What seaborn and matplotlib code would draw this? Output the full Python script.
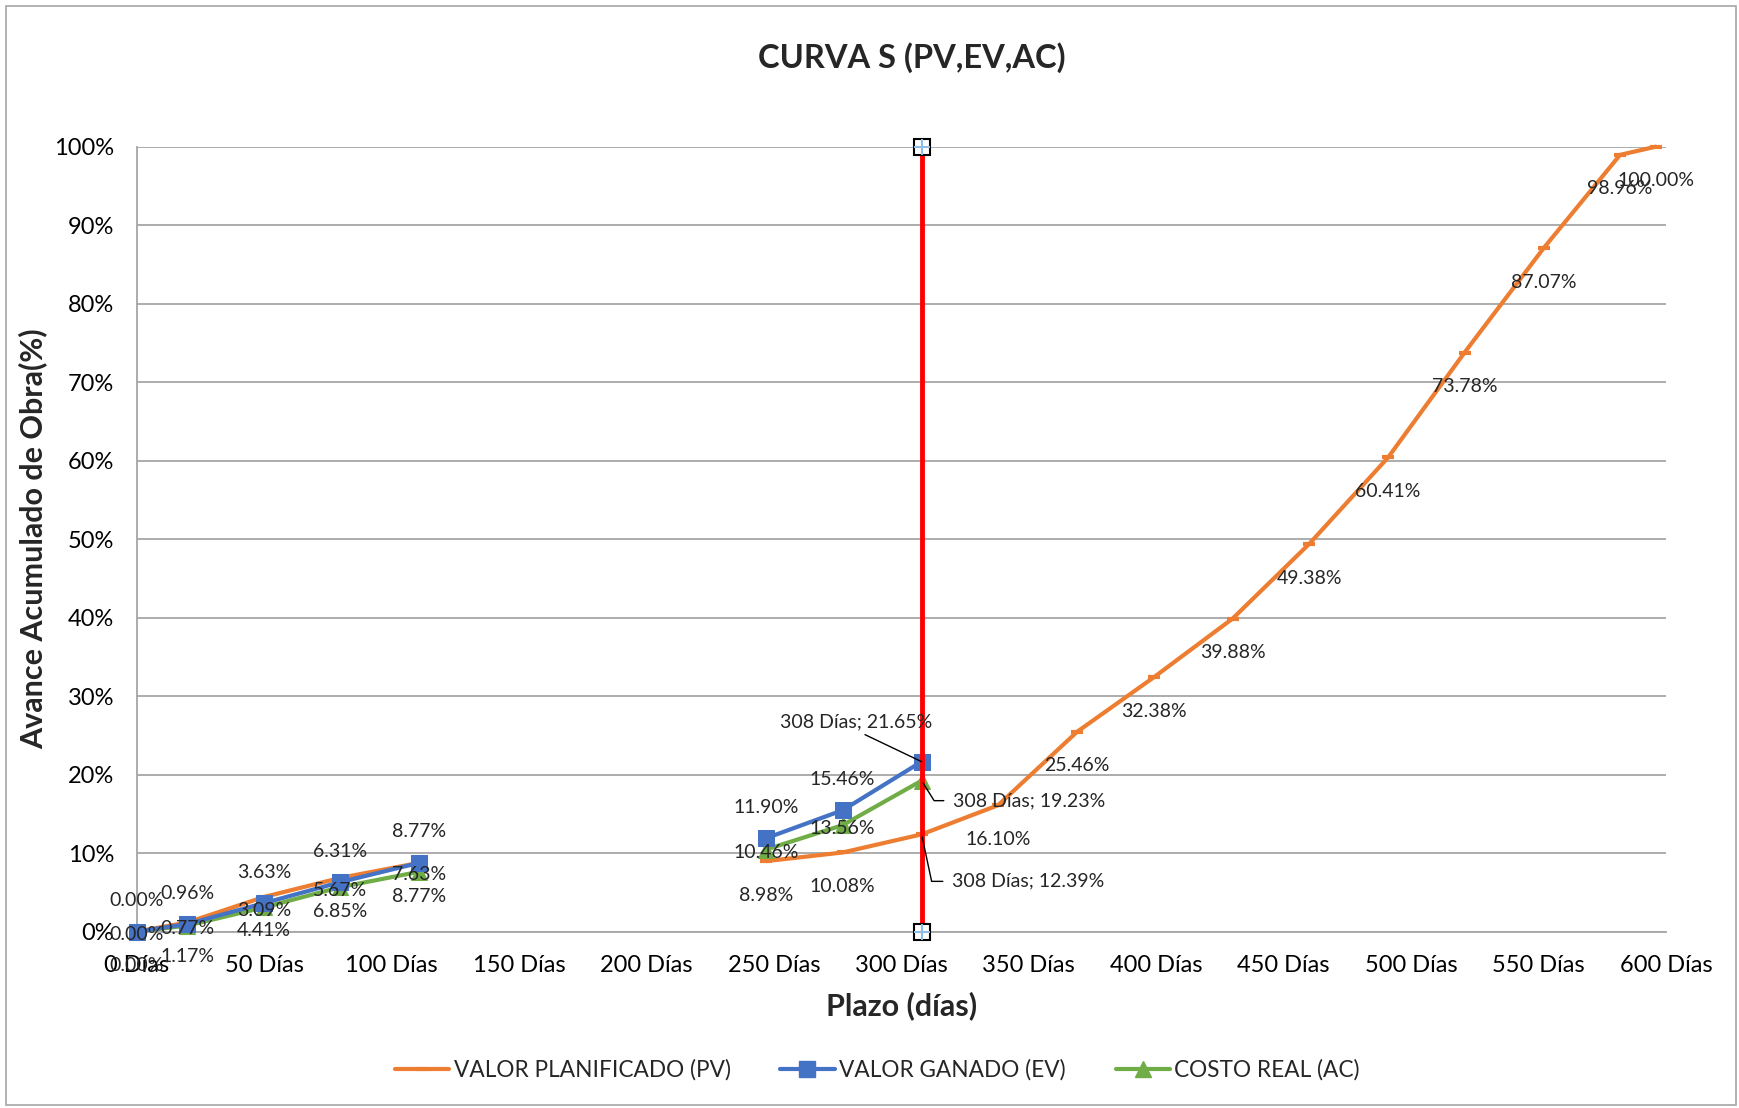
import numpy as np
import pandas as pd
import matplotlib
matplotlib.use("Agg")
import matplotlib.pyplot as plt
import seaborn as sns
from matplotlib.lines import Line2D
from matplotlib.patches import Rectangle

# datos de la curva S (días acumulados, % de avance)
DIAS = [0, 20, 50, 80, 111, 247, 277, 308, 338, 369, 399, 430, 460, 491, 521, 552, 582, 596]
PV = [0.00, 1.17, 4.41, 6.85, 8.77, 8.98, 10.08, 12.39, 16.10, 25.46, 32.38,
      39.88, 49.38, 60.41, 73.78, 87.07, 98.96, 100.00]
EV = [0.00, 0.96, 3.63, 6.31, 8.77, 11.90, 15.46, 21.65]
AC = [0.00, 0.77, 3.09, 5.67, 7.63, 10.46, 13.56, 19.23]

CORTE_DIA = 308
CORTE_Y = [0, 100]

X_TICKS = list(range(0, 601, 50))
Y_TICKS = list(range(0, 101, 10))

C_PV = "#ED7D31"
C_EV = "#4472C4"
C_AC = "#70AD47"
C_CORTE = "#FF0000"

sns.set_style("white")
plt.rcParams["font.family"] = ["Lato", "DejaVu Sans"]


def serie(valores):
    """DataFrame con un tramo nuevo donde hay un hueco grande de días."""
    dias = np.asarray(DIAS[:len(valores)])
    tramo = np.concatenate([[0], np.cumsum(np.diff(dias) > 100)])
    return pd.DataFrame({"dias": dias, "avance": valores, "tramo": tramo})


fig = plt.figure(figsize=(17.39, 11.08), dpi=100)
ax = fig.add_axes([0.0785, 0.1592, 0.8795, 0.7084])

common = dict(x="dias", y="avance", units="tramo", estimator=None, sort=False,
              ax=ax, legend=False, clip_on=False)
sns.lineplot(data=serie(PV), color=C_PV, lw=3, marker="_", ms=9, mew=3,
             mec=C_PV, zorder=3, **common)
sns.lineplot(data=serie(AC), color=C_AC, lw=3, marker="^", ms=12,
             mec=C_AC, zorder=4, **common)
sns.lineplot(data=serie(EV), color=C_EV, lw=3, marker="s", ms=12,
             mec=C_EV, zorder=5, **common)

# línea de corte
sns.lineplot(x=[CORTE_DIA] * 2, y=CORTE_Y, color=C_CORTE, lw=3.5, ax=ax,
             estimator=None, legend=False, zorder=6, clip_on=False)
ax.plot([CORTE_DIA] * 2, CORTE_Y, ls="none", marker="s", ms=12, mfc="white",
        mec="black", mew=1.5, zorder=7, clip_on=False)
ax.plot([CORTE_DIA] * 2, CORTE_Y, ls="none", marker="+", ms=11, mec="#8DBDE8",
        mew=1.5, zorder=8, clip_on=False)

# etiquetas de datos
lab = dict(textcoords="offset pixels", ha="center", va="center", fontsize=14,
           annotation_clip=False, zorder=9)
for d, v in zip(DIAS, PV):
    if d != CORTE_DIA:
        ax.annotate(f"{v:.2f}%", (d, v), xytext=(0, -34), **lab)
for d, v in zip(DIAS, EV):
    if d != CORTE_DIA:
        ax.annotate(f"{v:.2f}%", (d, v), xytext=(0, 31), **lab)
for d, v in zip(DIAS, AC):
    if d != CORTE_DIA:
        ax.annotate(f"{v:.2f}%", (d, v), xytext=(0, -3), **lab)

ev_c = EV[DIAS.index(CORTE_DIA)]
ac_c = AC[DIAS.index(CORTE_DIA)]
pv_c = PV[DIAS.index(CORTE_DIA)]
ax.annotate(f"{CORTE_DIA} Días; {ev_c:.2f}%", (CORTE_DIA, ev_c), xytext=(-66, 40),
            textcoords="offset pixels", ha="center", va="center", fontsize=14,
            arrowprops=dict(arrowstyle="-", color="black", lw=1, relpos=(0.5, 0),
                            shrinkA=2, shrinkB=0), zorder=9)
ax.annotate(f"{CORTE_DIA} Días; {ac_c:.2f}%", (CORTE_DIA, ac_c), xytext=(31, -20),
            textcoords="offset pixels", ha="left", va="center", fontsize=14,
            arrowprops=dict(arrowstyle="-", color="black", lw=1, relpos=(0, 0.5),
                            shrinkA=4, shrinkB=2,
                            connectionstyle="angle,angleA=0,angleB=-58,rad=0"),
            zorder=9)
ax.annotate(f"{CORTE_DIA} Días; {pv_c:.2f}%", (CORTE_DIA, pv_c), xytext=(30, -47),
            textcoords="offset pixels", ha="left", va="center", fontsize=14,
            arrowprops=dict(arrowstyle="-", color="black", lw=1, relpos=(0, 0.5),
                            shrinkA=4, shrinkB=2,
                            connectionstyle="angle,angleA=0,angleB=-78,rad=0"),
            zorder=9)

# ejes
ax.set_xlim(0, 600)
ax.set_ylim(0, 100)
ax.set_xticks(X_TICKS)
ax.set_xticklabels([f"{t} Días" for t in X_TICKS])
ax.set_yticks(Y_TICKS)
ax.set_yticklabels([f"{t}%" for t in Y_TICKS])
ax.tick_params(axis="both", labelsize=17, colors="#a6a6a6", labelcolor="black",
               direction="out", length=6, width=1.2)
ax.tick_params(axis="y", pad=10)
ax.tick_params(axis="x", pad=10.5)
ax.yaxis.grid(True, color="#a6a6a6", lw=1.3)
ax.set_axisbelow(True)
for s in ["top", "right"]:
    ax.spines[s].set_visible(False)
for s in ["left", "bottom"]:
    ax.spines[s].set_color("#a6a6a6")
    ax.spines[s].set_linewidth(1.3)

ax.set_xlabel("Plazo (días)", fontsize=22, fontweight="bold", va="center")
ax.xaxis.set_label_coords(0.5, -0.0948)
ax.set_ylabel("Avance Acumulado de Obra(%)", fontsize=22, fontweight="bold", va="center")
ax.yaxis.set_label_coords(-0.0677, 0.5)

fig.text(0.5245, 1 - 58 / 1108, "CURVA S (PV,EV,AC)", ha="center", va="center",
         fontsize=23.5, fontweight="bold")

handles = [
    Line2D([], [], color=C_PV, lw=3, marker="_", ms=9, mew=3),
    Line2D([], [], color=C_EV, lw=3, marker="s", ms=12),
    Line2D([], [], color=C_AC, lw=3, marker="^", ms=12),
]
labels = ["VALOR PLANIFICADO (PV)", "VALOR GANADO (EV)", "COSTO REAL (AC)"]
fig.legend(handles, labels, loc="center", bbox_to_anchor=(0.5045, 1 - 1070 / 1108),
           ncol=3, frameon=False, fontsize=16.3, handlelength=2.4,
           handletextpad=0.2, columnspacing=2.2)

fig.patches.append(Rectangle((0.0037, 0.0027), 0.9948, 0.9919, transform=fig.transFigure,
                             fill=False, ec="#a6a6a6", lw=1.2))

fig.savefig("out.png", dpi=100)
